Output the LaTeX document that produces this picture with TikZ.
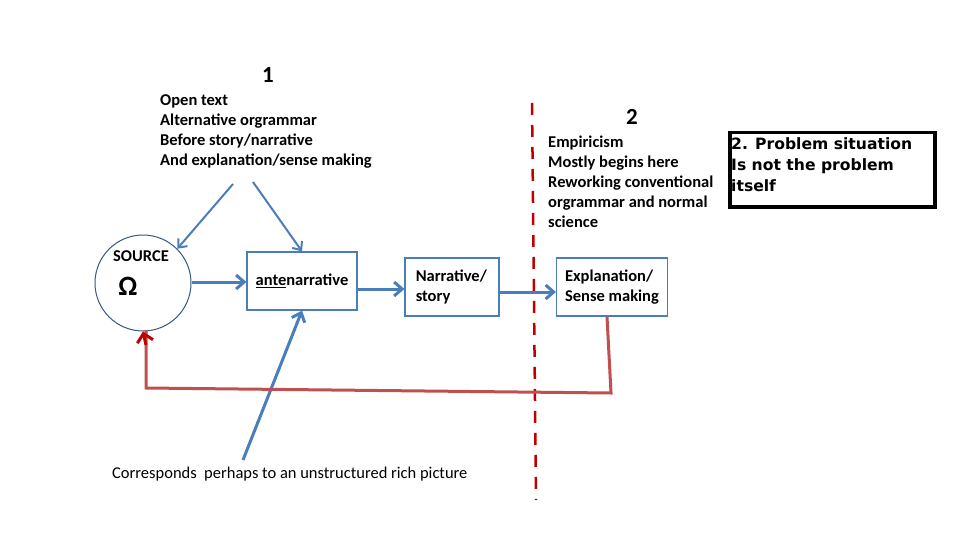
\documentclass[tikz,border=0pt]{standalone}
\usepackage{fontspec}
\setmainfont{Carlito}
\newfontfamily\dejasans{DejaVu Sans}
\usetikzlibrary{arrows.meta}
\definecolor{blu}{RGB}{74,126,187}
\definecolor{redl}{RGB}{192,80,77}
\definecolor{redd}{RGB}{192,0,0}
\begin{document}
\begin{tikzpicture}[x=1pt,y=-1pt,font=\bfseries\fontsize{16.5}{20}\selectfont]
\tikzset{
  box/.style={draw=blu,line width=1.2pt,minimum width=#1,minimum height=58,inner sep=2pt},
  lbl/.style={align=left,anchor=north west,inner sep=0pt},
  arr/.style={draw=blu,line width=3pt,-{Straight Barb[length=8pt,width=14pt]}}
}
\useasboundingbox (0,0) rectangle (960,540);
\node[font=\bfseries\fontsize{23}{26}\selectfont] (n1) at (268,75) {1};
\node[font=\bfseries\fontsize{23}{26}\selectfont] (n2) at (632,117) {2};
\node[lbl] (t1) at (160,94) {Open text\\Alternative orgrammar\\Before story/narrative\\And explanation/sense making};
\node[lbl] (t2) at (548,136) {Empiricism\\Mostly begins here\\Reworking conventional\\orgrammar and normal\\science};
\node[draw=black,line width=3.5pt,minimum width=205,minimum height=74,anchor=north west,inner sep=0pt] (pb) at (728,131) {};
\node[lbl,font=\dejasans\bfseries\fontsize{15.6}{21}\selectfont] (pt) at (731,137) {2. Problem situation\\Is not the problem\\itself};
\node[draw=blu!70!black,line width=1pt,circle,minimum size=96] (src) at (143,283) {};
\node (srct) at (141,256) {SOURCE};
\node[font=\bfseries\fontsize{28}{30}\selectfont] (om) at (128,286) {Ω};
\node[box=110] (ante) at (302,281) {\underline{ante}narrative};
\node[box=94,align=left] (nar) at (452,287) {Narrative/\\story\phantom{xxxxx}};
\node[box=111,align=left] (exp) at (612,287) {Explanation/\\Sense making};
\node[lbl,font=\fontsize{16.5}{20}\selectfont] (cap) at (112,467) {Corresponds\ \ perhaps to an unstructured rich picture};
\draw[redd,line width=2.5pt,dash pattern=on 12pt off 10pt] (532,103) -- (536,500);
\coordinate (c1) at (233,184);
\coordinate (c2) at (253,182);
\coordinate (c3) at (243,460);
\draw[blu,line width=2pt,-{Straight Barb[length=7pt,width=12pt]}] (c1) -- (src.north east);
\draw[blu,line width=2pt,-{Straight Barb[length=7pt,width=12pt]}] (c2) -- (ante.north);
\draw[blu,line width=3pt,-{Straight Barb[length=8pt,width=14pt]}] (c3) -- (ante.south);
\draw[arr] (src.east |- 0,282) -- (ante.west |- 0,282);
\draw[arr] (ante.east |- 0,289) -- (nar.west |- 0,289);
\draw[arr] (nar.east |- 0,292) -- (exp.west |- 0,292);
\draw[redl,line width=3pt] (exp.south -| 607,0) -- (611,393) -- (146,388) -- (146,330);
\draw[redd,line width=3pt,-{Straight Barb[length=8pt,width=16pt]}] (146,345) -- (src.south);
\end{tikzpicture}
\end{document}
